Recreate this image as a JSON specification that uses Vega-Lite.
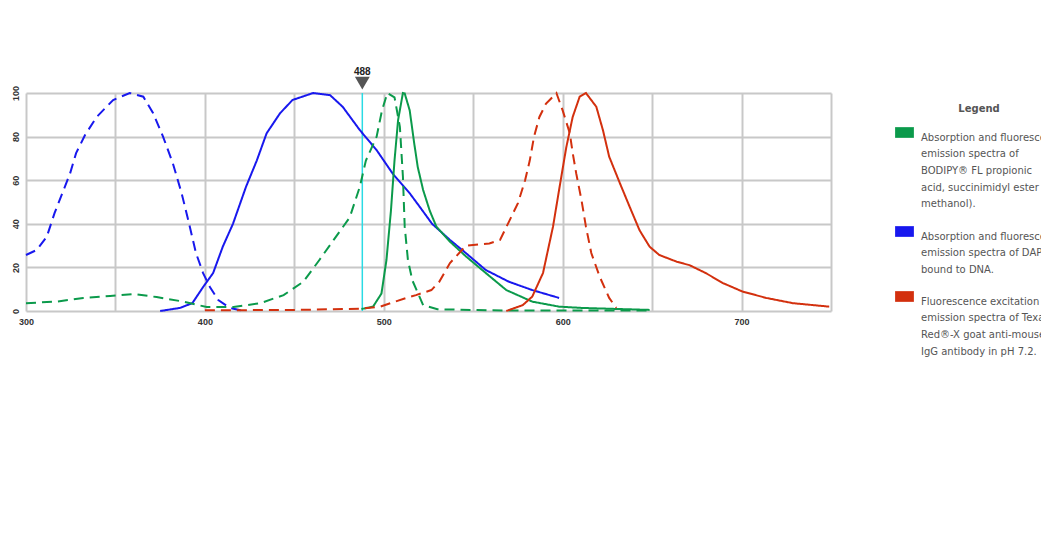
{
  "$schema": "https://vega.github.io/schema/vega-lite/v6.json",
  "autosize": {"type": "none"},
  "width": 805,
  "height": 218,
  "padding": {"left": 26, "top": 93, "right": 210, "bottom": 248},
  "background": "white",
  "config": {"view": {"stroke": null}, "font": "Liberation Sans"},
  "datasets": {
    "laser": [{"nm": 488, "label": "488"}],
    "spectra": [
      {"f":"DAPI","t":"ex","nm":300,"v":25.7},{"f":"DAPI","t":"ex","nm":306,"v":28},{"f":"DAPI","t":"ex","nm":311.6,"v":34},{"f":"DAPI","t":"ex","nm":316,"v":45},{"f":"DAPI","t":"ex","nm":321,"v":55.5},{"f":"DAPI","t":"ex","nm":324.6,"v":63},{"f":"DAPI","t":"ex","nm":328,"v":72.4},{"f":"DAPI","t":"ex","nm":333,"v":80.7},{"f":"DAPI","t":"ex","nm":339.5,"v":89},{"f":"DAPI","t":"ex","nm":348.7,"v":96.8},{"f":"DAPI","t":"ex","nm":358,"v":100},{"f":"DAPI","t":"ex","nm":365.6,"v":98.3},{"f":"DAPI","t":"ex","nm":371,"v":90.8},{"f":"DAPI","t":"ex","nm":376.6,"v":80},{"f":"DAPI","t":"ex","nm":382,"v":68},{"f":"DAPI","t":"ex","nm":387,"v":54},{"f":"DAPI","t":"ex","nm":390.7,"v":41.7},{"f":"DAPI","t":"ex","nm":395,"v":26.6},{"f":"DAPI","t":"ex","nm":399,"v":17.4},{"f":"DAPI","t":"ex","nm":402.8,"v":11},{"f":"DAPI","t":"ex","nm":407.5,"v":5},{"f":"DAPI","t":"ex","nm":414,"v":1.4},{"f":"DAPI","t":"ex","nm":420,"v":0.3},
      {"f":"DAPI","t":"em","nm":375,"v":0},{"f":"DAPI","t":"em","nm":386,"v":1.4},{"f":"DAPI","t":"em","nm":393,"v":3.6},{"f":"DAPI","t":"em","nm":399,"v":11},{"f":"DAPI","t":"em","nm":404.6,"v":17.4},{"f":"DAPI","t":"em","nm":410,"v":29.5},{"f":"DAPI","t":"em","nm":415.7,"v":40},{"f":"DAPI","t":"em","nm":423,"v":57},{"f":"DAPI","t":"em","nm":429,"v":69},{"f":"DAPI","t":"em","nm":434.5,"v":81.5},{"f":"DAPI","t":"em","nm":442,"v":90.7},{"f":"DAPI","t":"em","nm":449,"v":96.8},{"f":"DAPI","t":"em","nm":460.5,"v":100},{"f":"DAPI","t":"em","nm":470,"v":99},{"f":"DAPI","t":"em","nm":477,"v":93.7},{"f":"DAPI","t":"em","nm":486.6,"v":83},{"f":"DAPI","t":"em","nm":496,"v":73.8},{"f":"DAPI","t":"em","nm":505,"v":63},{"f":"DAPI","t":"em","nm":514.5,"v":54},{"f":"DAPI","t":"em","nm":520,"v":47.9},{"f":"DAPI","t":"em","nm":527,"v":40},{"f":"DAPI","t":"em","nm":537,"v":32.6},{"f":"DAPI","t":"em","nm":546,"v":26.5},{"f":"DAPI","t":"em","nm":557,"v":18.8},{"f":"DAPI","t":"em","nm":570,"v":13.4},{"f":"DAPI","t":"em","nm":583,"v":9.6},{"f":"DAPI","t":"em","nm":598,"v":6},
      {"f":"BODIPY FL","t":"ex","nm":300,"v":3.6},{"f":"BODIPY FL","t":"ex","nm":317,"v":4.3},{"f":"BODIPY FL","t":"ex","nm":332,"v":6},{"f":"BODIPY FL","t":"ex","nm":347,"v":6.9},{"f":"BODIPY FL","t":"ex","nm":360,"v":7.8},{"f":"BODIPY FL","t":"ex","nm":373,"v":6.4},{"f":"BODIPY FL","t":"ex","nm":388,"v":4.3},{"f":"BODIPY FL","t":"ex","nm":401,"v":1.8},{"f":"BODIPY FL","t":"ex","nm":416,"v":1.8},{"f":"BODIPY FL","t":"ex","nm":431,"v":3.6},{"f":"BODIPY FL","t":"ex","nm":444,"v":7.3},{"f":"BODIPY FL","t":"ex","nm":455,"v":13.4},{"f":"BODIPY FL","t":"ex","nm":464,"v":23.4},{"f":"BODIPY FL","t":"ex","nm":472,"v":32.6},{"f":"BODIPY FL","t":"ex","nm":481,"v":43},{"f":"BODIPY FL","t":"ex","nm":486.6,"v":57},{"f":"BODIPY FL","t":"ex","nm":490,"v":69},{"f":"BODIPY FL","t":"ex","nm":496,"v":80},{"f":"BODIPY FL","t":"ex","nm":499,"v":92},{"f":"BODIPY FL","t":"ex","nm":502,"v":100},{"f":"BODIPY FL","t":"ex","nm":506,"v":98},{"f":"BODIPY FL","t":"ex","nm":509,"v":84.5},{"f":"BODIPY FL","t":"ex","nm":510.7,"v":61.6},{"f":"BODIPY FL","t":"ex","nm":511.7,"v":38.7},{"f":"BODIPY FL","t":"ex","nm":513.5,"v":23.4},{"f":"BODIPY FL","t":"ex","nm":516,"v":14},{"f":"BODIPY FL","t":"ex","nm":522,"v":2.7},{"f":"BODIPY FL","t":"ex","nm":530,"v":0.8},{"f":"BODIPY FL","t":"ex","nm":560,"v":0.3},{"f":"BODIPY FL","t":"ex","nm":600,"v":0.2},{"f":"BODIPY FL","t":"ex","nm":650,"v":0.2},
      {"f":"BODIPY FL","t":"em","nm":487.5,"v":0.9},{"f":"BODIPY FL","t":"em","nm":494,"v":2},{"f":"BODIPY FL","t":"em","nm":498.7,"v":8},{"f":"BODIPY FL","t":"em","nm":501.5,"v":23.4},{"f":"BODIPY FL","t":"em","nm":504,"v":46},{"f":"BODIPY FL","t":"em","nm":506,"v":69},{"f":"BODIPY FL","t":"em","nm":508,"v":87.6},{"f":"BODIPY FL","t":"em","nm":510.7,"v":100},{"f":"BODIPY FL","t":"em","nm":511.7,"v":99.8},{"f":"BODIPY FL","t":"em","nm":514.5,"v":92},{"f":"BODIPY FL","t":"em","nm":517,"v":77},{"f":"BODIPY FL","t":"em","nm":519,"v":66},{"f":"BODIPY FL","t":"em","nm":522,"v":55.5},{"f":"BODIPY FL","t":"em","nm":525.7,"v":46},{"f":"BODIPY FL","t":"em","nm":529.4,"v":38.7},{"f":"BODIPY FL","t":"em","nm":537,"v":31.8},{"f":"BODIPY FL","t":"em","nm":546,"v":25},{"f":"BODIPY FL","t":"em","nm":555,"v":18.8},{"f":"BODIPY FL","t":"em","nm":568.5,"v":9.6},{"f":"BODIPY FL","t":"em","nm":583,"v":4.3},{"f":"BODIPY FL","t":"em","nm":598,"v":2},{"f":"BODIPY FL","t":"em","nm":611,"v":1.4},{"f":"BODIPY FL","t":"em","nm":648.6,"v":0.5},
      {"f":"Texas Red-X","t":"ex","nm":400,"v":0.3},{"f":"Texas Red-X","t":"ex","nm":450,"v":0.5},{"f":"Texas Red-X","t":"ex","nm":487,"v":1},{"f":"Texas Red-X","t":"ex","nm":498,"v":2},{"f":"Texas Red-X","t":"ex","nm":512.6,"v":6},{"f":"Texas Red-X","t":"ex","nm":518,"v":7.3},{"f":"Texas Red-X","t":"ex","nm":526.6,"v":9.6},{"f":"Texas Red-X","t":"ex","nm":531,"v":13.4},{"f":"Texas Red-X","t":"ex","nm":537,"v":22},{"f":"Texas Red-X","t":"ex","nm":546,"v":30},{"f":"Texas Red-X","t":"ex","nm":559,"v":31},{"f":"Texas Red-X","t":"ex","nm":565,"v":32.6},{"f":"Texas Red-X","t":"ex","nm":570.4,"v":41.7},{"f":"Texas Red-X","t":"ex","nm":575,"v":49.5},{"f":"Texas Red-X","t":"ex","nm":579,"v":60},{"f":"Texas Red-X","t":"ex","nm":581.6,"v":69},{"f":"Texas Red-X","t":"ex","nm":584,"v":80},{"f":"Texas Red-X","t":"ex","nm":587,"v":89},{"f":"Texas Red-X","t":"ex","nm":590.6,"v":95},{"f":"Texas Red-X","t":"ex","nm":596.5,"v":100},{"f":"Texas Red-X","t":"ex","nm":600,"v":92},{"f":"Texas Red-X","t":"ex","nm":604,"v":81.5},{"f":"Texas Red-X","t":"ex","nm":605.6,"v":72.5},{"f":"Texas Red-X","t":"ex","nm":607.6,"v":63},{"f":"Texas Red-X","t":"ex","nm":610.5,"v":51},{"f":"Texas Red-X","t":"ex","nm":613,"v":38.7},{"f":"Texas Red-X","t":"ex","nm":616,"v":26.6},{"f":"Texas Red-X","t":"ex","nm":620.7,"v":15.7},{"f":"Texas Red-X","t":"ex","nm":626,"v":6},{"f":"Texas Red-X","t":"ex","nm":630,"v":1.4},
      {"f":"Texas Red-X","t":"em","nm":568.5,"v":0},{"f":"Texas Red-X","t":"em","nm":577.7,"v":2.7},{"f":"Texas Red-X","t":"em","nm":583,"v":6.6},{"f":"Texas Red-X","t":"em","nm":589,"v":17.4},{"f":"Texas Red-X","t":"em","nm":594.6,"v":38.7},{"f":"Texas Red-X","t":"em","nm":598.3,"v":57},{"f":"Texas Red-X","t":"em","nm":602,"v":75},{"f":"Texas Red-X","t":"em","nm":605.6,"v":89},{"f":"Texas Red-X","t":"em","nm":609.5,"v":98.3},{"f":"Texas Red-X","t":"em","nm":613,"v":100},{"f":"Texas Red-X","t":"em","nm":618.8,"v":93.7},{"f":"Texas Red-X","t":"em","nm":622.5,"v":83},{"f":"Texas Red-X","t":"em","nm":626,"v":70.8},{"f":"Texas Red-X","t":"em","nm":632,"v":58.6},{"f":"Texas Red-X","t":"em","nm":637.4,"v":47.9},{"f":"Texas Red-X","t":"em","nm":643,"v":37},{"f":"Texas Red-X","t":"em","nm":648.6,"v":29.5},{"f":"Texas Red-X","t":"em","nm":654,"v":25.7},{"f":"Texas Red-X","t":"em","nm":663.8,"v":22.6},{"f":"Texas Red-X","t":"em","nm":671,"v":21},{"f":"Texas Red-X","t":"em","nm":680,"v":17.4},{"f":"Texas Red-X","t":"em","nm":689.6,"v":12.8},{"f":"Texas Red-X","t":"em","nm":700.6,"v":8.9},{"f":"Texas Red-X","t":"em","nm":713.8,"v":6},{"f":"Texas Red-X","t":"em","nm":728.6,"v":3.6},{"f":"Texas Red-X","t":"em","nm":749,"v":2}
    ]
  },
  "layer": [
    {
      "data": {"name": "laser"},
      "mark": {"type": "rule", "color": "#2adbe4", "strokeWidth": 1.5},
      "encoding": {"x": {"field": "nm", "type": "quantitative"}}
    },
    {
      "data": {"name": "spectra"},
      "mark": {"type": "line", "strokeWidth": 2},
      "encoding": {
        "x": {
          "field": "nm", "type": "quantitative",
          "scale": {"domain": [300, 750], "nice": false, "zero": false},
          "axis": {
            "title": null,
            "values": [300, 350, 400, 450, 500, 550, 600, 650, 700, 750],
            "labelExpr": "datum.value % 100 == 0 ? datum.label : ''",
            "grid": true, "gridColor": "#c8c8c8", "gridWidth": 2,
            "domain": false, "ticks": false,
            "labelFontSize": 9, "labelFontWeight": "bold", "labelColor": "#333",
            "labelPadding": 6, "labelFlush": false, "labelOverlap": false
          }
        },
        "y": {
          "field": "v", "type": "quantitative",
          "scale": {"domain": [0, 100], "nice": false},
          "axis": {
            "title": null,
            "values": [0, 10, 20, 30, 40, 50, 60, 70, 80, 90, 100],
            "labelExpr": "datum.value % 20 == 0 ? datum.label : ''",
            "labelAngle": -90,
            "grid": true, "gridColor": "#c8c8c8", "gridWidth": 2,
            "domain": false, "ticks": false,
            "labelFontSize": 9, "labelFontWeight": "bold", "labelColor": "#333",
            "labelPadding": 6, "labelOverlap": false
          }
        },
        "color": {
          "field": "f", "type": "nominal",
          "scale": {"domain": ["BODIPY FL", "DAPI", "Texas Red-X"], "range": ["#0b9a4b", "#1818ee", "#d3300e"]},
          "legend": {
            "title": "Legend", "orient": "none", "legendX": 869, "legendY": 11,
            "titleAnchor": "middle", "titleFontSize": 10, "titleColor": "#555", "titlePadding": 9,
            "titleFont": "DejaVu Sans",
            "labelFont": "DejaVu Sans",
            "labelFontSize": 10, "labelColor": "#555", "labelLimit": 400, "labelBaseline": "top",
            "labelOffset": 7,
            "rowPadding": 12,
            "symbolType": "M-1,-0.55H1V0.55H-1Z", "symbolSize": 324, "symbolStrokeWidth": 1,
            "labelExpr": "datum.value == 'BODIPY FL' ? ['Absorption and fluorescence', 'emission spectra of', 'BODIPY® FL propionic', 'acid, succinimidyl ester (in', 'methanol).'] : datum.value == 'DAPI' ? ['Absorption and fluorescence', 'emission spectra of DAPI', 'bound to DNA.'] : ['Fluorescence excitation and', 'emission spectra of Texas', 'Red®-X goat anti-mouse', 'IgG antibody in pH 7.2.']",
            "encode": {
              "symbols": {"update": {"fill": {"scale": "color", "field": "value"}, "stroke": {"value": "#444"}, "strokeDash": {"value": [1, 0]}, "opacity": {"value": 1}, "fillOpacity": {"value": 1}}},
              "labels": {"update": {"lineHeight": {"value": 16.7}}}
            }
          }
        },
        "strokeDash": {
          "field": "t", "type": "nominal",
          "scale": {"domain": ["em", "ex"], "range": [[1, 0], [10, 6]]},
          "legend": null
        }
      }
    },
    {
      "data": {"name": "laser"},
      "mark": {"type": "point", "shape": "triangle-down", "filled": true, "color": "#555", "size": 220, "opacity": 1},
      "encoding": {"x": {"field": "nm", "type": "quantitative"}, "y": {"datum": 104.5}}
    },
    {
      "data": {"name": "laser"},
      "mark": {"type": "text", "fontSize": 10, "fontWeight": "bold", "color": "#222"},
      "encoding": {"x": {"field": "nm", "type": "quantitative"}, "y": {"datum": 109.5}, "text": {"field": "label"}}
    }
  ]
}
